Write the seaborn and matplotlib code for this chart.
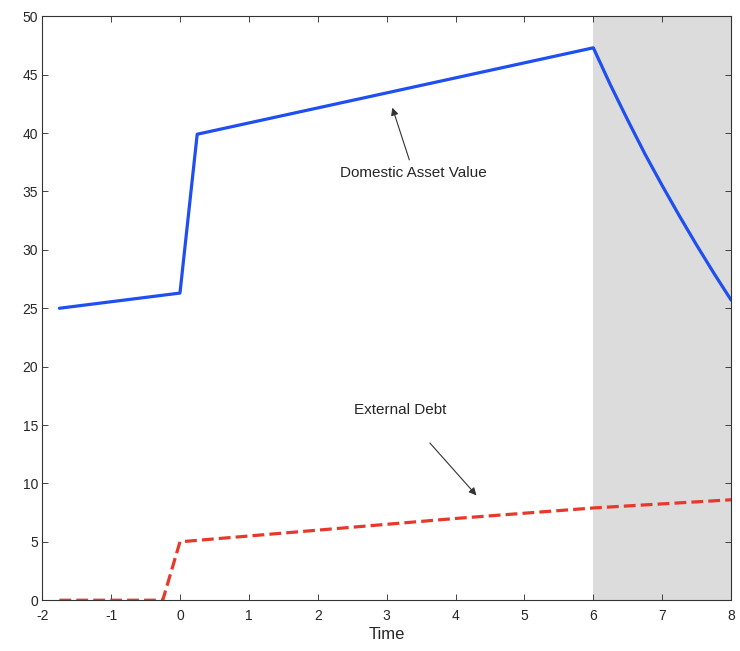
import numpy as np
import pandas as pd
import matplotlib
matplotlib.use("Agg")
import matplotlib.pyplot as plt
import seaborn as sns

# Values
asset_time = [-1.75, 0.0, 0.25, 6.0, 6.25, 6.5, 6.75, 7.0, 7.25, 7.5, 7.75, 8.0]
asset_value = [25.0, 26.3, 39.9, 47.3, 44.1, 41.1, 38.2, 35.5, 32.9, 30.4, 28.0, 25.7]

debt_time = [-1.75, -0.25, 0.0, 2.0, 4.0, 6.0, 8.0]
debt_value = [0.0, 0.0, 5.0, 6.0, 7.0, 7.9, 8.6]

shade_range = (6, 8)
x_ticks = list(range(-2, 9))
y_ticks = list(range(0, 51, 5))

sns.set_theme(style="ticks")
plt.rcParams['font.family'] = ['Liberation Sans', 'DejaVu Sans']
plt.rcParams['xtick.direction'] = 'in'
plt.rcParams['ytick.direction'] = 'in'
plt.rcParams['axes.unicode_minus'] = False

fig = plt.figure(figsize=(7.4, 6.51), dpi=100)
ax = fig.add_axes([0.057, 0.078, 0.931, 0.897])

ax.axvspan(shade_range[0], shade_range[1], color='#dcdcdc', zorder=0, lw=0)

asset_df = pd.DataFrame({'Time': asset_time, 'Value': asset_value})
debt_df = pd.DataFrame({'Time': debt_time, 'Value': debt_value})

sns.lineplot(data=asset_df, x='Time', y='Value', ax=ax, color='#1f4ff0', lw=2.3)
sns.lineplot(data=debt_df, x='Time', y='Value', ax=ax, color='#e8382b', lw=2.3, linestyle='--')

ax.annotate('Domestic Asset Value', xy=(3.07, 42.4), xytext=(3.39, 36.6),
            ha='center', va='center', fontsize=11,
            arrowprops=dict(arrowstyle='-|>', color='#333333', lw=0.8))
ax.annotate('External Debt', xy=(4.33, 8.8), xytext=(3.2, 16.3),
            ha='center', va='center', fontsize=11,
            arrowprops=dict(arrowstyle='-|>', color='#333333', lw=0.8,
                            shrinkA=22))

ax.set_xlim(-2, 8)
ax.set_ylim(0, 50)
ax.set_xticks(x_ticks)
ax.set_yticks(y_ticks)
ax.tick_params(top=True, right=True, labelsize=10, length=4, width=0.6)
ax.tick_params(axis='x', pad=6)
ax.tick_params(axis='y', pad=3)
for s in ax.spines.values():
    s.set_linewidth(0.8)
    s.set_color('#333333')
ax.set_xlabel('Time', fontsize=12, labelpad=3)
ax.set_ylabel('')

fig.savefig('out.png', dpi=100)
